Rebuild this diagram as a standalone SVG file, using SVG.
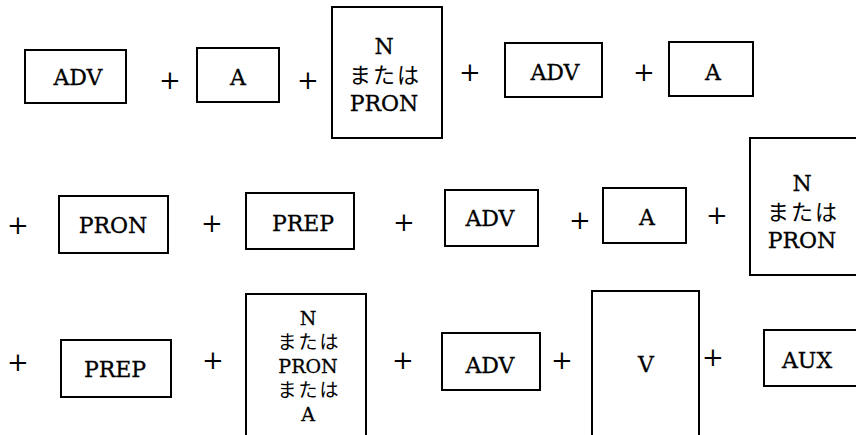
<svg xmlns="http://www.w3.org/2000/svg" width="856" height="435" viewBox="0 0 856 435">
<style>
.box{fill:none;stroke:#000;stroke-width:2}
.t{font-family:"DejaVu Serif","Liberation Serif",serif;font-size:22px;text-anchor:middle;fill:#000;stroke:#000;stroke-width:0.3}
.k{font-family:"Noto Sans CJK JP","Noto Sans CJK SC",sans-serif;font-size:22px;text-anchor:middle;fill:#000;letter-spacing:2px}
.s{font-size:19px}
.p{font-family:"DejaVu Serif","Liberation Serif",serif;font-size:26px;text-anchor:middle;fill:#000}
</style>
<rect width="856" height="435" fill="#fff"/>
<g id="n1"><rect class="box" x="25" y="50" width="101" height="53"/><text class="t" x="78" y="85">ADV</text></g>
<g id="n2"><rect class="box" x="197" y="48" width="82" height="54"/><text class="t" x="238" y="85">A</text></g>
<g id="n3"><rect class="box" x="332" y="7" width="110" height="131"/><text class="t" x="384" y="54">N</text><text class="k" x="385" y="83">または</text><text class="t" x="384" y="111">PRON</text></g>
<g id="n4"><rect class="box" x="505" y="43" width="97" height="54"/><text class="t" x="555" y="80">ADV</text></g>
<g id="n5"><rect class="box" x="669" y="42" width="84" height="54"/><text class="t" x="713" y="80">A</text></g>
<g id="n6"><rect class="box" x="59" y="196" width="109" height="57"/><text class="t" x="113" y="233">PRON</text></g>
<g id="n7"><rect class="box" x="246" y="193" width="108" height="56"/><text class="t" x="303" y="231">PREP</text></g>
<g id="n8"><rect class="box" x="445" y="190" width="93" height="56"/><text class="t" x="490" y="226">ADV</text></g>
<g id="n9"><rect class="box" x="603" y="188" width="83" height="55"/><text class="t" x="647" y="225">A</text></g>
<g id="n10"><rect class="box" x="750" y="138" width="120" height="137"/><text class="t" x="802" y="191">N</text><text class="k" x="803" y="220">または</text><text class="t" x="802" y="248">PRON</text></g>
<g id="n11"><rect class="box" x="61" y="340" width="110" height="57"/><text class="t" x="115" y="377">PREP</text></g>
<g id="n12"><rect class="box" x="246" y="294" width="120" height="160"/><text class="t s" x="308" y="325">N</text><text class="k s" x="309" y="349">または</text><text class="t s" x="308" y="373">PRON</text><text class="k s" x="309" y="397">または</text><text class="t s" x="308" y="421">A</text></g>
<g id="n13"><rect class="box" x="442" y="333" width="98" height="57"/><text class="t" x="490" y="373">ADV</text></g>
<g id="n14"><rect class="box" x="592" y="291" width="107" height="160"/><text class="t" x="646" y="372">V</text></g>
<g id="n15"><rect class="box" x="764" y="330" width="110" height="56"/><text class="t" x="807" y="368">AUX</text></g>
<g id="connectors">
<text class="p" x="170" y="89">+</text>
<text class="p" x="308" y="89">+</text>
<text class="p" x="470" y="81">+</text>
<text class="p" x="644" y="81">+</text>
<text class="p" x="18" y="234">+</text>
<text class="p" x="212" y="232">+</text>
<text class="p" x="404" y="231">+</text>
<text class="p" x="580" y="229">+</text>
<text class="p" x="717" y="224">+</text>
<text class="p" x="18" y="371">+</text>
<text class="p" x="213" y="369">+</text>
<text class="p" x="403" y="369">+</text>
<text class="p" x="562" y="369">+</text>
<text class="p" x="713" y="366">+</text>
</g>
</svg>
